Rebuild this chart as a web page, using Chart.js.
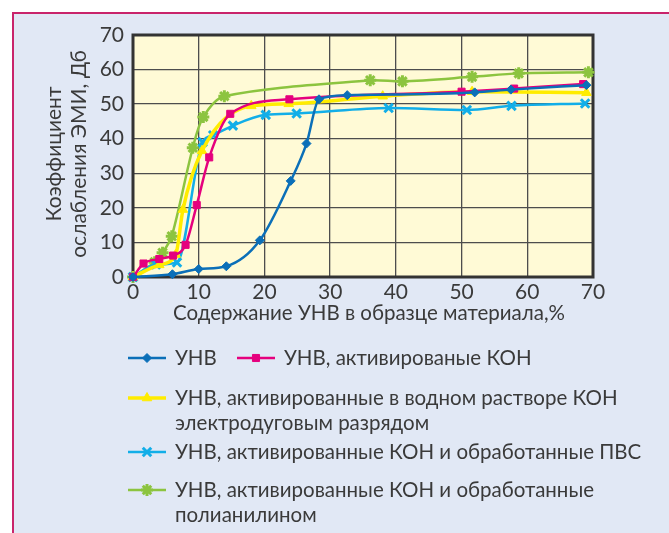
<!DOCTYPE html>
<html>
<head>
<meta charset="utf-8">
<script src="https://cdn.jsdelivr.net/npm/chart.js@4.4.1/dist/chart.umd.min.js"></script>
<style>
  html, body { margin: 0; padding: 0; background: #fff; }
  #frame {
    position: absolute; left: 12px; top: 12px; width: 657px; height: 521px;
    background: #e1e8f5; border-left: 2px solid #c9246b; border-top: 2px solid #c9246b;
  }
  #chart { position: absolute; left: 0; top: 0; }
</style>
</head>
<body>
<div id="frame"></div>
<canvas id="chart" width="669" height="533"></canvas>
<script>
// --- data ---
const xTicks = [0, 10, 20, 30, 40, 50, 60, 70];
const yTicks = [0, 10, 20, 30, 40, 50, 60, 70];

const unvX = [0, 6, 10, 14.2, 19.3, 24, 26.4, 28.3, 32.6, 52, 57.5, 69];
const unvY = [0, 0.8, 2.3, 3.1, 10.6, 27.8, 38.6, 51.4, 52.6, 53.4, 54.2, 55.5];

const kohX = [0, 1.6, 4, 6.1, 8, 9.7, 11.6, 14.8, 23.8, 50, 58, 68.5];
const kohY = [0, 3.9, 5.2, 6.2, 9.3, 20.8, 34.6, 47.2, 51.4, 53.6, 54.5, 55.8];

const arcX = [0, 4, 6.5, 7.6, 10.5, 18, 23.7, 38, 51.6, 69];
const arcY = [0, 3.5, 6.5, 19.5, 36.5, 49.5, 50.1, 52.3, 53.6, 53.3];

const pvsX = [0, 3.5, 6.7, 10.6, 12.2, 15.2, 20.2, 24.9, 38.9, 50.8, 57.6, 68.8];
const pvsY = [0, 3.6, 4.2, 39, 41, 43.8, 46.9, 47.3, 48.9, 48.3, 49.5, 50.2];

const paniX = [0, 3.3, 4.5, 5.9, 9.1, 10.7, 13.9, 36.1, 41, 51.6, 58.7, 69.3];
const paniY = [0, 4.3, 7, 11.8, 37.4, 46.3, 52.3, 56.9, 56.6, 57.9, 58.9, 59.2];

const seriesNames = [
  ['УНВ'],
  ['УНВ, активированые КОН'],
  ['УНВ, активированные в водном растворе КОН', 'электродуговым разрядом'],
  ['УНВ, активированные КОН и обработанные ПВС'],
  ['УНВ, активированные КОН и обработанные', 'полианилином'],
];

const xTitle = 'Содержание УНВ в образце материала,%';
const yTitle = ['Коэффициент', 'ослабления ЭМИ, Дб'];

const FONT = 'Lato, sans-serif';
const TEXT = '#3a3a3a';

// mode: how the curve is smoothed between markers
const STYLES = [
  { color: '#0b6fb8', point: 'rectRot', radius: 4.5, width: 2.5, pbw: 1, mode: 'monotone' },
  { color: '#e5007e', point: 'rect', radius: 5, width: 2.5, pbw: 1, mode: 'monotone' },
  { color: '#ffec00', point: 'triangle', radius: 5.5, width: 3.5, pbw: 1, mode: 'monotone' },
  { color: '#12aee8', point: 'crossRot', radius: 6, width: 2.5, pbw: 3, mode: 'monotone' },
  { color: '#8cc43f', point: 'star', radius: 6, width: 2.5, pbw: 3, mode: 'default' },
];

function pts(xs, ys) { return xs.map((x, i) => ({ x, y: ys[i] })); }
const allData = [pts(unvX, unvY), pts(kohX, kohY), pts(arcX, arcY), pts(pvsX, pvsY), pts(paniX, paniY)];

// legend layout: row y and icon left x for each series
const LEGEND_POS = [
  { x: 128, y: 358 },
  { x: 237, y: 358 },
  { x: 128, y: 398 },
  { x: 128, y: 452 },
  { x: 128, y: 490 },
];

function drawMarker(ctx, st, x, y) {
  ctx.save();
  ctx.strokeStyle = st.color;
  ctx.fillStyle = st.color;
  ctx.lineWidth = st.pbw;
  Chart.helpers.drawPoint(ctx, { pointStyle: st.point, radius: st.radius, borderWidth: st.pbw, rotation: 0 }, x, y);
  ctx.restore();
}

const framePlugin = {
  id: 'frame',
  beforeDraw(chart) {
    const { ctx, chartArea: a } = chart;
    ctx.save();
    ctx.fillStyle = '#fffad6';
    ctx.fillRect(a.left, a.top, a.right - a.left, a.bottom - a.top);
    ctx.restore();
  },
  beforeDatasetsDraw(chart) {
    const { ctx, chartArea: a } = chart;
    ctx.save();
    ctx.strokeStyle = '#333';
    ctx.lineWidth = 3;
    ctx.strokeRect(a.left, a.top, a.right - a.left, a.bottom - a.top);
    ctx.restore();
  },
  afterDraw(chart) {
    const { ctx } = chart;
    ctx.save();
    ctx.fillStyle = TEXT;
    ctx.textBaseline = 'middle';

    // x title
    ctx.font = '20.5px ' + FONT;
    ctx.textAlign = 'center';
    ctx.fillText(xTitle, 369, 313);

    // y title (rotated, two lines)
    ctx.save();
    ctx.font = '21px ' + FONT;
    ctx.translate(0, 154);
    ctx.rotate(-Math.PI / 2);
    ctx.fillText(yTitle[0], 0, 54);
    ctx.fillText(yTitle[1], 0, 79);
    ctx.restore();

    // legend
    ctx.textAlign = 'left';
    ctx.font = '20.5px ' + FONT;
    seriesNames.forEach((lines, i) => {
      const st = STYLES[i];
      const p = LEGEND_POS[i];
      ctx.save();
      ctx.strokeStyle = st.color;
      ctx.lineWidth = st.width;
      ctx.beginPath();
      ctx.moveTo(p.x, p.y);
      ctx.lineTo(p.x + 38, p.y);
      ctx.stroke();
      ctx.restore();
      drawMarker(ctx, st, p.x + 19, p.y);
      lines.forEach((t, j) => ctx.fillText(t, p.x + 47, p.y + j * 25));
    });
    ctx.restore();
  },
};

new Chart(document.getElementById('chart'), {
  type: 'scatter',
  data: {
    datasets: allData.map((d, i) => ({
      label: seriesNames[i].join(' '),
      data: d,
      showLine: true,
      borderColor: STYLES[i].color,
      backgroundColor: STYLES[i].color,
      borderWidth: STYLES[i].width,
      pointStyle: STYLES[i].point,
      pointRadius: STYLES[i].radius,
      pointBorderWidth: STYLES[i].pbw,
      pointBorderColor: STYLES[i].color,
      pointBackgroundColor: STYLES[i].color,
      cubicInterpolationMode: STYLES[i].mode,
      tension: 0.3,
      clip: false,
    })),
  },
  options: {
    responsive: false,
    animation: false,
    layout: { padding: { left: 0, top: 35, right: 76, bottom: 0 }, autoPadding: false },
    plugins: { legend: { display: false }, tooltip: { enabled: false } },
    scales: {
      x: {
        type: 'linear', min: 0, max: 70,
        afterBuildTicks(s) { s.ticks = xTicks.map((v) => ({ value: v })); },
        afterFit(s) { s.height = 256; },
        ticks: { color: TEXT, font: { family: FONT, size: 21 }, padding: 3 },
        grid: { color: '#4d4d4d', lineWidth: 1.3, drawTicks: false },
        border: { display: false },
      },
      y: {
        min: 0, max: 70,
        afterBuildTicks(s) { s.ticks = yTicks.map((v) => ({ value: v })); },
        afterFit(s) { s.width = 133; },
        ticks: { color: TEXT, font: { family: FONT, size: 21 }, padding: 9 },
        grid: { color: '#4d4d4d', lineWidth: 1.3, drawTicks: false },
        border: { display: false },
      },
    },
  },
  plugins: [framePlugin],
});
</script>
</body>
</html>
